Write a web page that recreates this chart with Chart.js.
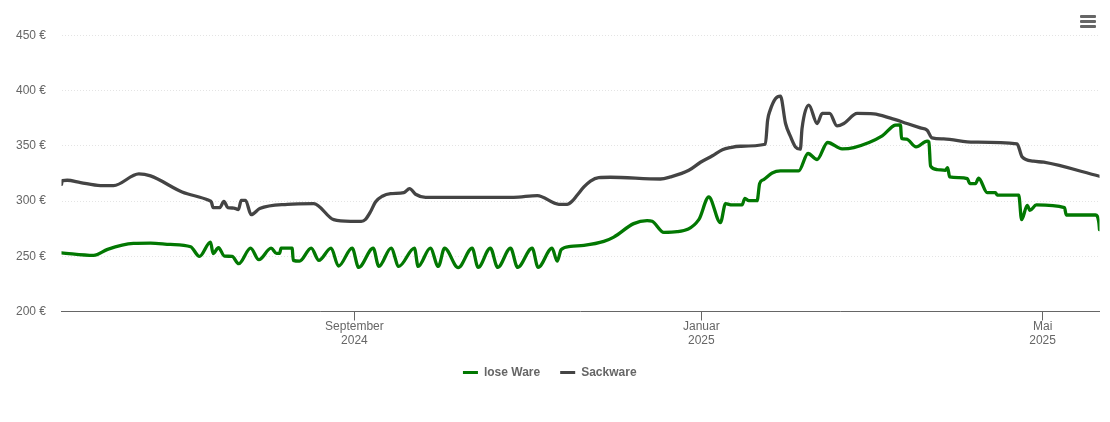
<!DOCTYPE html>
<html lang="de">
<head>
<meta charset="utf-8">
<title>Preisentwicklung</title>
<script src="https://cdn.jsdelivr.net/npm/chart.js@4"></script>
<style>
html,body{margin:0;padding:0;background:#fff;overflow:hidden}
#wrap{position:relative;width:1110px;height:422px}
canvas{display:block}
#menu{position:absolute;left:1080px;top:15px;width:16px}
#menu i{display:block;height:3px;margin-bottom:2px;background:#666;border-radius:1px}
</style>
</head>
<body>
<div id="wrap"><canvas id="c" width="1110" height="422"></canvas><div id="menu"><i></i><i></i><i></i></div></div>
<script>
// Days since 2024-05-21
const seriesNames = ["lose Ware", "Sackware"];
const yTicks = [200, 250, 300, 350, 400, 450];
const tickDays = [103, 225, 345];
const tickLabels = [["September", "2024"], ["Januar", "2025"], ["Mai", "2025"]];

const looseDays = [0,11.3,16.2,25.3,31.3,38.3,45.4,48.5,52.4,53.3,55.2,57.3,60,62.3,66.5,69.4,73.7,75.6,76.7,77.2,81.1,81.5,83.7,87.8,90.5,94.8,97.4,102.2,104.5,109.6,111.6,115.9,118.6,124.1,125.4,129.7,132.5,134.7,139.5,144.4,146.5,150.8,153.4,157.9,160.4,165.5,167.6,172.5,174.3,175.7,179,183.7,190.7,194.2,201.2,205.9,207.7,211.8,216.5,224.1,227.6,231.7,233.5,235.8,239.3,240.3,241.7,244.6,245.5,246.9,249.9,252.8,259.2,262.5,265.7,269.4,274.5,278.6,288.6,293.2,295,295.4,297.1,300.5,304.4,305,305.6,307.9,310.8,311.6,312.3,315.5,318.5,319.4,321.4,322.5,325.5,328.4,329,336.6,337.6,339.6,340.5,342.8,352.7,353.3,363.6,364.8,365];
const looseValues = [253.1,250.8,256.3,261.7,262,260.8,258.7,249.9,262.9,252.4,257.8,250.2,249.9,243.3,257.4,246.9,257.4,252.6,252.6,257.4,257.4,246.3,245.6,257.4,246.3,257.4,241.1,257.4,239.9,257.4,240.8,257.4,240.8,257.4,240.8,257.4,240.8,257.4,239.7,257.4,239.9,257.4,239.9,257.4,239.9,257.4,239.9,257.4,245.6,256,259,259.9,263.5,267.4,279.6,282.3,281.7,271.7,272.3,283.2,303.7,280.5,297.7,296.5,296.5,302.5,300.4,300.4,315.9,319.5,325.5,327.3,327.3,343.1,337.7,353.1,347.3,348.5,359.1,368.8,369.1,356.7,356.1,349.1,354.3,353.6,331.6,328.6,327.9,330.4,321.9,321.3,320.4,315.9,315.9,320.7,307.7,307.7,305.5,305.5,283.2,296.2,291.6,296.5,294.1,287.4,287.4,280,274.1];

const sackDays = [0,0.3,2,6.7,13.7,18.3,27.2,31.3,42.4,51.8,52.7,53.3,55.7,57.1,58.5,60.6,62.2,63.2,64.7,66.7,69.7,79.4,88.7,95.7,101.6,105.4,106.9,108.6,110.4,112.8,115.7,120.4,122.4,124.5,128,159,167.3,174.9,177.8,179.6,181.3,183.7,186,188.9,193,210.6,214.1,220.6,224.7,228.9,232.4,235.2,238.7,247.5,248.3,249.2,251.1,252.8,254.6,256.4,258.1,259.8,260.4,262.8,265.7,267.5,270.1,272.7,275.1,279.8,285.6,291.5,297.3,302,304.4,306.1,310.2,320.8,336,337.8,341.8,345.4,365];
const sackValues = [315.2,318.6,318.9,316.8,314.1,314.1,324.6,322.8,308.3,300.7,299.2,294.1,294.1,299.8,294.1,293.7,292.3,300.7,300.7,287.7,293.2,297.1,297.7,283.2,281.7,281.7,283.5,290.1,299.2,304.4,306.8,307.7,311.3,306.2,303.4,303.4,305,297.1,297.1,300.1,305.3,312.8,318.2,321.3,321.6,320,321.9,327.9,335.2,341.1,346.5,348.5,349.7,351.5,373.3,382.4,393,395.1,370.3,358.2,349.1,347,365.8,386.9,370.3,379.4,379.4,368.1,370.3,379.4,379,375.1,370.3,366.3,364.2,357.3,356.3,353.4,351.8,340,336.1,335.2,322.5];

const toPoints = (days, values) => days.map((d, i) => ({ x: d, y: values[i] }));
const FONT = '"Liberation Sans", Arial, sans-serif';
const TXT = "#666666";

function dataset(label, days, values, color) {
  return {
    label, data: toPoints(days, values),
    borderColor: color, backgroundColor: color,
    borderWidth: 3.3, pointRadius: 0, fill: false,
    cubicInterpolationMode: "monotone",
    borderJoinStyle: "round", borderCapStyle: "round"
  };
}

new Chart(document.getElementById("c"), {
  type: "line",
  data: { datasets: [
    dataset(seriesNames[0], looseDays, looseValues, "#027802"),
    dataset(seriesNames[1], sackDays, sackValues, "#444444")
  ]},
  options: {
    responsive: false, animation: false, devicePixelRatio: 1,
    layout: { padding: { top: 35.5, right: 10.5, bottom: 33.5, left: 0 } },
    plugins: {
      tooltip: { enabled: false },
      legend: {
        position: "bottom",
        labels: {
          boxWidth: 15, boxHeight: 3, padding: 20, color: TXT,
          font: { family: FONT, size: 12, weight: "bold" },
          generateLabels: chart => Chart.defaults.plugins.legend.labels.generateLabels(chart)
            .map(item => ({ ...item, lineWidth: 0 }))
        }
      }
    },
    scales: {
      x: {
        type: "linear", min: 0, max: 365,
        afterBuildTicks: s => { s.ticks = tickDays.map(v => ({ value: v })); },
        afterFit: s => { s.height = 35; },
        border: { color: "#666666", width: 1 },
        grid: { drawOnChartArea: false, drawTicks: true, tickLength: 9, tickColor: "#666666" },
        ticks: {
          autoSkip: false, maxRotation: 0, color: TXT, padding: -1,
          font: { family: FONT, size: 12, lineHeight: 1.17 },
          callback: v => tickLabels[tickDays.indexOf(v)]
        }
      },
      y: {
        min: 200, max: 450,
        afterBuildTicks: s => { s.ticks = yTicks.map(v => ({ value: v })); },
        afterFit: s => { s.width = 61.5; },
        border: { display: false, dash: [1, 2] },
        grid: { color: "#e4e4e4", lineWidth: 1, tickLength: 0, drawTicks: false },
        ticks: {
          color: TXT, padding: 15.5,
          font: { family: FONT, size: 12 },
          callback: v => v + " €"
        }
      }
    }
  }
});
</script>
</body>
</html>
